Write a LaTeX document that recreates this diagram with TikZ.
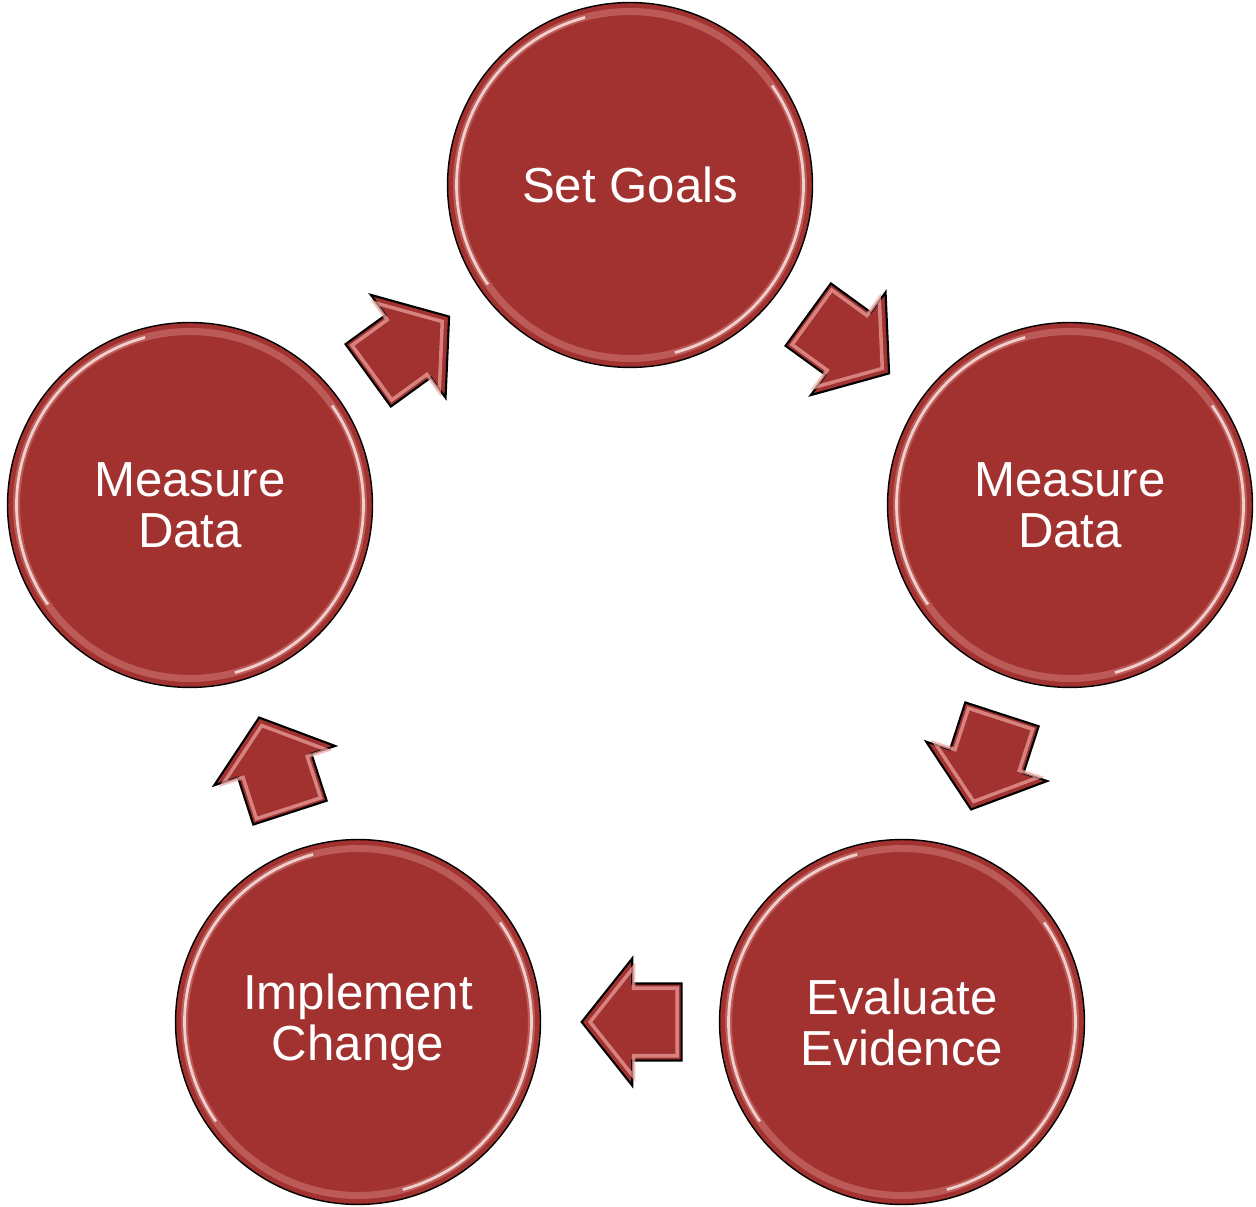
\documentclass[tikz,border=0pt]{standalone}
\usepackage{fontspec}
\setmainfont{Liberation Sans}
\usetikzlibrary{shapes.arrows,calc}

\definecolor{stagered}{RGB}{161,50,48}
\definecolor{bevelpink}{RGB}{238,165,160}

\begin{document}
\begin{tikzpicture}
[
  x=0.02cm, y=0.02cm,
	stage/.style={circle,draw=black,line width=0.8pt,fill=stagered,minimum size=7.3cm,inner sep=0pt,
	  text=white,align=center,font=\fontsize{28}{29}\selectfont,
	  path picture={
	    \draw[bevelpink,line width=4pt,opacity=0.35] (path picture bounding box.center) circle (3.47cm);
	    \draw[white!70!bevelpink,line width=1.6pt,opacity=0.85] ([shift={(105:3.47cm)}]path picture bounding box.center) arc (105:215:3.47cm);
	    \draw[white!70!bevelpink,line width=1.6pt,opacity=0.85] ([shift={(-75:3.47cm)}]path picture bounding box.center) arc (-75:35:3.47cm);
	  }},
	flow/.style={rotate=#1,xshift=-0.34cm},
	blockarrow/.style={single arrow,draw=black,line width=1.2pt,fill=stagered,inner xsep=0pt,inner ysep=0.75cm,
	  minimum height=2cm,single arrow head extend=0.5cm,single arrow tip angle=103,flow=#1},
	arrowglow/.style={single arrow,draw=bevelpink,line width=2pt,opacity=0.7,inner xsep=0pt,inner ysep=0.64cm,
	  minimum height=1.74cm,single arrow head extend=0.42cm,single arrow tip angle=103,flow=#1}
]
\useasboundingbox (0,0) rectangle (1256,1206);

% stages
\node[stage] (goals) at (630,1021) {Set Goals};
\node[stage] (measureR) at (1070,701) {Measure\\Data};
\node[stage] (evaluate) at (902,184) {Evaluate\\Evidence};
\node[stage] (implement) at (358,184) {Implement\\Change};
\node[stage] (measureL) at (190,701) {Measure\\Data};

% arrows
\coordinate (midGM) at ($(goals)!0.5!(measureR)$);
\coordinate (midME) at ($(measureR)!0.5!(evaluate)$);
\coordinate (midEI) at ($(evaluate)!0.5!(implement)$);
\coordinate (midIM) at ($(implement)!0.5!(measureL)$);
\coordinate (midMG) at ($(measureL)!0.5!(goals)$);

\node[blockarrow=-36] (arrGM) at (midGM) {};
\node[arrowglow=-36] at (midGM) {};
\node[blockarrow=-108] (arrME) at (midME) {};
\node[arrowglow=-108] at (midME) {};
\node[blockarrow=180] (arrEI) at (midEI) {};
\node[arrowglow=180] at (midEI) {};
\node[blockarrow=108] (arrIM) at (midIM) {};
\node[arrowglow=108] at (midIM) {};
\node[blockarrow=36] (arrMG) at (midMG) {};
\node[arrowglow=36] at (midMG) {};

\end{tikzpicture}
\end{document}
